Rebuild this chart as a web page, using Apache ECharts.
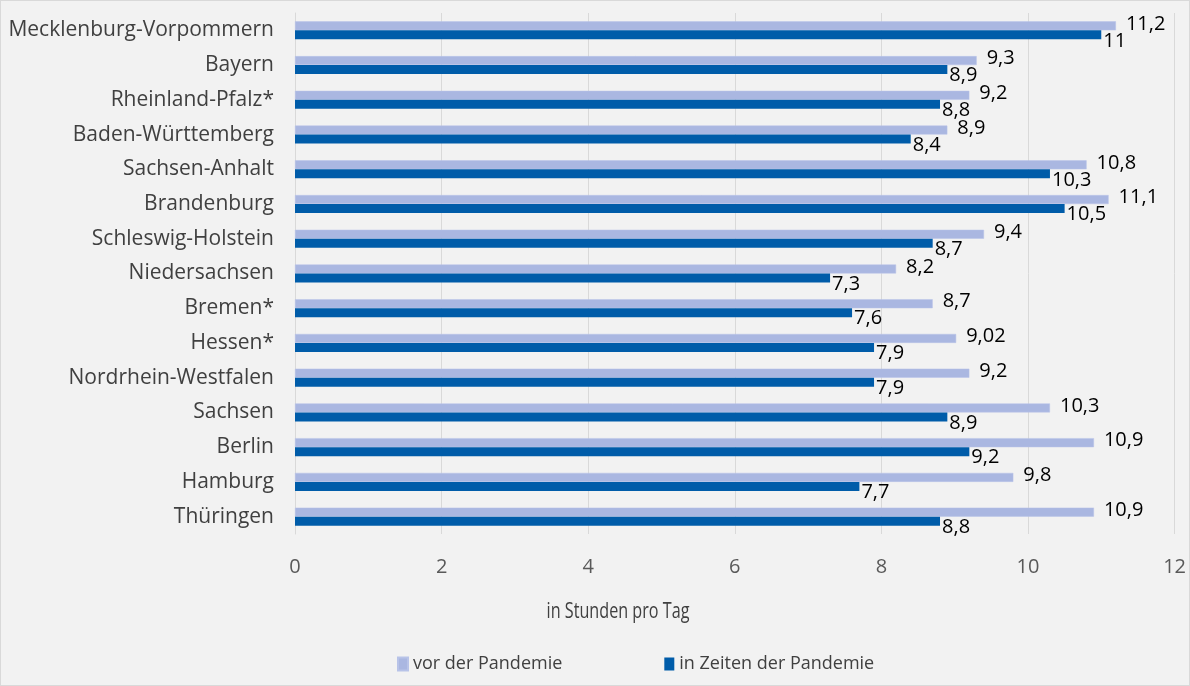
<!DOCTYPE html>
<html>
<head>
<meta charset="utf-8">
<script src="https://cdn.jsdelivr.net/npm/echarts@6/dist/echarts.min.js"></script>
<style>
html,body{margin:0;padding:0;background:#f2f2f2;}
#c{width:1190px;height:686px;box-sizing:border-box;border:1px solid #d9d9d9;}
</style>
</head>
<body>
<div id="c"></div>
<script>
const categories = ["Mecklenburg-Vorpommern","Bayern","Rheinland-Pfalz*","Baden-Württemberg","Sachsen-Anhalt","Brandenburg","Schleswig-Holstein","Niedersachsen","Bremen*","Hessen*","Nordrhein-Westfalen","Sachsen","Berlin","Hamburg","Thüringen"];
const vorPandemie = [11.2,9.3,9.2,8.9,10.8,11.1,9.4,8.2,8.7,9.02,9.2,10.3,10.9,9.8,10.9];
const inPandemie = [11,8.9,8.8,8.4,10.3,10.5,8.7,7.3,7.6,7.9,7.9,8.9,9.2,7.7,8.8];
const seriesNames = ["vor der Pandemie","in Zeiten der Pandemie"];
const axisTitle = "in Stunden pro Tag";

const fontFam = '"Open Sans", "Noto Sans", sans-serif';
const fmt = v => String(v).replace('.', ',');
const chart = echarts.init(document.getElementById('c'));
chart.setOption({
  backgroundColor: '#f2f2f2',
  animation: false,
  textStyle: {fontFamily: fontFam},
  grid: {left: 294, right: 13, top: 12, bottom: 151, containLabel: false},
  xAxis: {
    type: 'value', min: 0, max: 12, interval: 2,
    axisLine: {show: false}, axisTick: {show: false},
    splitLine: {show: true, lineStyle: {color: '#d9d9d9', width: 1}},
    axisLabel: {color: '#595959', fontSize: 20, margin: 23, fontFamily: fontFam}
  },
  yAxis: {
    type: 'category', data: categories, inverse: true,
    axisLine: {show: true, lineStyle: {color: '#d9d9d9'}},
    axisTick: {show: false},
    axisLabel: {color: '#404040', fontSize: 21, margin: 21, fontFamily: fontFam}
  },
  legend: {
    data: seriesNames, left: 391, top: 649, itemWidth: 10, itemHeight: 13, itemGap: 102,
    icon: 'rect',
    textStyle: {color: '#404040', fontSize: 18, fontFamily: fontFam}
  },
  graphic: [{
    type: 'text', x: 617, y: 611, scaleX: 0.77,
    style: {text: axisTitle, fill: '#404040', fontSize: 21, fontFamily: fontFam, align: 'center', verticalAlign: 'middle', textAlign: 'center', textVerticalAlign: 'middle'}
  }],
  series: [
    {
      name: seriesNames[0], type: 'bar', data: vorPandemie, barWidth: 9, barGap: '0%',
      itemStyle: {color: '#aab7e1', borderColor: '#b8c3e8', borderWidth: 0.5},
      label: {show: true, position: 'right', distance: 10, offset: [0, -2], color: '#000', fontSize: 20, fontFamily: fontFam, formatter: p => fmt(p.value)}
    },
    {
      name: seriesNames[1], type: 'bar', data: inPandemie, barWidth: 9, barGap: '0%',
      itemStyle: {color: '#005ca9'},
      label: {show: true, position: 'right', distance: 2, offset: [0, 6], color: '#000', fontSize: 20, fontFamily: fontFam, formatter: p => fmt(p.value)}
    }
  ]
});
</script>
</body>
</html>
